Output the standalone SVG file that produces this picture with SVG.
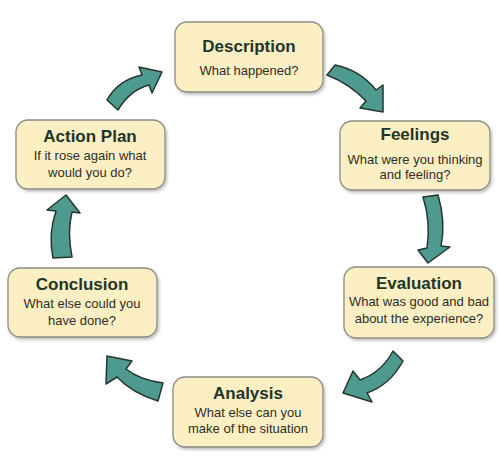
<svg xmlns="http://www.w3.org/2000/svg" width="499" height="460" viewBox="0 0 499 460">
<defs>
<filter id="sh" x="-10%" y="-10%" width="130%" height="140%">
<feDropShadow dx="1.5" dy="2" stdDeviation="1.5" flood-color="#000" flood-opacity="0.25"/>
</filter>
<style>
.box{fill:#fdefc4;stroke:#8c8c84;stroke-width:1.3;filter:url(#sh)}
.t{font-family:"Liberation Sans",Arial,sans-serif;font-weight:bold;font-size:17px;fill:#1e3527;text-anchor:middle}
.s{font-family:"Liberation Sans",Arial,sans-serif;font-size:13px;fill:#2e2e26;text-anchor:middle}
.arr{fill:#4e9a8f;stroke:#26352f;stroke-width:1.5;stroke-linejoin:round}
</style>
</defs>
<rect width="499" height="460" fill="#fff"/>
<g id="connectors">
<path class="arr" d="M327,75 L335,65 Q360,70 376,90 L383,85 L383,112 L360,108 L366,101 Q350,84 327,75 Z"/>
<path class="arr" d="M423,197 L438,195 Q446,222 441,246 L450,247 L428,263 L418,250 L427,248 Q431,222 423,197 Z"/>
<path class="arr" d="M393,351 L403,361 Q390,385 367,393 L372,402 L343,393 L353,371 L360,380 Q382,372 393,351 Z"/>
<path class="arr" d="M163,383 L158,401 Q132,393 117,377 L106,384 L107,356 L132,361 L126,369 Q140,380 163,383 Z"/>
<path class="arr" d="M53,258 L72,257 Q67,232 72,212 L80,213 L66,195 L47,210 L56,211 Q48,234 53,258 Z"/>
<path class="arr" d="M107,100 L118,110 Q130,90 149,85 L152,93 L162,72 L139,67 L142,75 Q118,80 107,100 Z"/>
</g>
<g id="description">
<rect class="box" x="175" y="22" width="148" height="70" rx="12"/>
<text class="t" x="249" y="52">Description</text>
<text class="s" x="249" y="75">What happened?</text>
</g>
<g id="feelings">
<rect class="box" x="340" y="121" width="150" height="69" rx="12"/>
<text class="t" x="415" y="140">Feelings</text>
<text class="s" x="415" y="164">What were you thinking</text>
<text class="s" x="415" y="179">and feeling?</text>
</g>
<g id="evaluation">
<rect class="box" x="344" y="267" width="150" height="71" rx="12"/>
<text class="t" x="419" y="289">Evaluation</text>
<text class="s" x="419" y="306">What was good and bad</text>
<text class="s" x="419" y="323">about the experience?</text>
</g>
<g id="analysis">
<rect class="box" x="173" y="377" width="150" height="70" rx="12"/>
<text class="t" x="248" y="399">Analysis</text>
<text class="s" x="248" y="417">What else can you</text>
<text class="s" x="248" y="433">make of the situation</text>
</g>
<g id="conclusion">
<rect class="box" x="8" y="268" width="149" height="69" rx="12"/>
<text class="t" x="82" y="290">Conclusion</text>
<text class="s" x="82" y="308">What else could you</text>
<text class="s" x="82" y="325">have done?</text>
</g>
<g id="action-plan">
<rect class="box" x="16" y="120" width="149" height="69" rx="12"/>
<text class="t" x="90" y="142">Action Plan</text>
<text class="s" x="90" y="160">If it rose again what</text>
<text class="s" x="90" y="177">would you do?</text>
</g>
</svg>
